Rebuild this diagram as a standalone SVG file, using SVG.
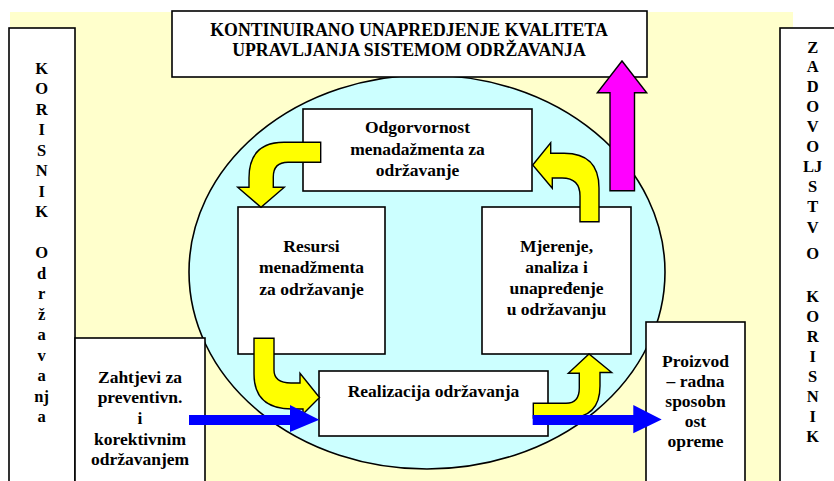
<svg xmlns="http://www.w3.org/2000/svg" width="834" height="481" viewBox="0 0 834 481">
<style>
.box{fill:#FFFFFF;stroke:#000000;stroke-width:1.6}
text{font-family:'Liberation Serif','DejaVu Serif',serif;font-weight:bold;fill:#000000;text-anchor:middle}
.t{font-size:17.5px}
.v{font-size:16.5px}
.ya{fill:#FFFF00;stroke:#000000;stroke-width:1.4;stroke-linejoin:miter}
.ma{fill:#FF00FF;stroke:#000000;stroke-width:1.4}
.ba{fill:#0000FF;stroke:none}
</style>
<rect x="0" y="0" width="834" height="481" fill="#FFFFFF"/>
<rect x="10" y="12" width="783" height="475" fill="#FFFFCC"/>

<g id="korisnik-odrzavanja" font-family="Liberation Serif, serif">
<rect class="box" x="9" y="28" width="66" height="470"/>
<text class="v"><tspan x="41.7" y="73.5">K</tspan><tspan x="41.7" y="94">O</tspan><tspan x="41.7" y="114.5">R</tspan><tspan x="41.7" y="135">I</tspan><tspan x="41.7" y="155.5">S</tspan><tspan x="41.7" y="176">N</tspan><tspan x="41.7" y="196.5">I</tspan><tspan x="41.7" y="217">K</tspan><tspan x="41.7" y="258">O</tspan><tspan x="41.7" y="278.5">d</tspan><tspan x="41.7" y="299">r</tspan><tspan x="41.7" y="319.5">ž</tspan><tspan x="41.7" y="340">a</tspan><tspan x="41.7" y="360.5">v</tspan><tspan x="41.7" y="381">a</tspan><tspan x="41.7" y="401.5">nj</tspan><tspan x="41.7" y="422">a</tspan></text>
</g>

<g id="zadovoljstvo-korisnika">
<rect class="box" x="780" y="28" width="70" height="470"/>
<text class="v"><tspan x="812.7" y="52.5">Z</tspan><tspan x="812.7" y="72">A</tspan><tspan x="812.7" y="91.5">D</tspan><tspan x="812.7" y="111.5">O</tspan><tspan x="812.7" y="131.5">V</tspan><tspan x="812.7" y="151.5">O</tspan><tspan x="812.7" y="171.5">LJ</tspan><tspan x="812.7" y="191.5">S</tspan><tspan x="812.7" y="211.5">T</tspan><tspan x="812.7" y="233">V</tspan><tspan x="812.7" y="259">O</tspan><tspan x="812.7" y="301.5">K</tspan><tspan x="812.7" y="321.5">O</tspan><tspan x="812.7" y="341.5">R</tspan><tspan x="812.7" y="361.5">I</tspan><tspan x="812.7" y="381.5">S</tspan><tspan x="812.7" y="401.5">N</tspan><tspan x="812.7" y="421.5">I</tspan><tspan x="812.7" y="441.5">K</tspan></text>
</g>

<g id="sistem-odrzavanja">
<ellipse cx="427" cy="272" rx="238" ry="197" fill="#CCFFFF" stroke="#000000" stroke-width="1.6"/>
</g>

<g id="kontinuirano-unapredjenje">
<rect class="box" x="172" y="11" width="475" height="66"/>
<text class="t" style="font-size:17.8px" x="409" y="36">KONTINUIRANO UNAPREDJENJE KVALITETA</text>
<text class="t" style="font-size:17.8px" x="409" y="56">UPRAVLJANJA SISTEMOM ODRŽAVANJA</text>
</g>

<g id="odgovornost">
<rect class="box" x="303" y="109" width="229" height="82"/>
<text class="t" x="417.5" y="133">Odgorvornost</text>
<text class="t" x="417.5" y="154.5">menadažmenta za</text>
<text class="t" x="417.5" y="176">održavanje</text>
</g>

<g id="resursi">
<rect class="box" x="238" y="207" width="147" height="147"/>
<text class="t" x="311.5" y="251.5">Resursi</text>
<text class="t" x="311.5" y="273">menadžmenta</text>
<text class="t" x="311.5" y="294.5">za održavanje</text>
</g>

<g id="mjerenje">
<rect class="box" x="482" y="207" width="149" height="147"/>
<text class="t" x="556.5" y="251.5">Mjerenje,</text>
<text class="t" x="556.5" y="272.5">analiza i</text>
<text class="t" x="556.5" y="293.5">unapređenje</text>
<text class="t" x="556.5" y="314.5">u održavanju</text>
</g>

<g id="realizacija">
<rect class="box" x="319" y="371" width="229" height="65"/>
<text class="t" x="433.5" y="396.5">Realizacija održavanja</text>
</g>

<g id="zahtjevi">
<rect class="box" x="75" y="338" width="130" height="160"/>
<text class="t" x="140" y="382.5">Zahtjevi za</text>
<text class="t" x="140" y="403.3">preventivn.</text>
<text class="t" x="140" y="424">i</text>
<text class="t" x="140" y="444.5">korektivnim</text>
<text class="t" x="140" y="465.3">održavanjem</text>
</g>

<g id="proizvod">
<rect class="box" x="646" y="322" width="99" height="176"/>
<text class="t" x="695.5" y="366.7">Proizvod</text>
<text class="t" x="695.5" y="386.7">– radna</text>
<text class="t" x="695.5" y="406.7">sposobn</text>
<text class="t" x="695.5" y="426.7">ost</text>
<text class="t" x="695.5" y="446.7">opreme</text>
</g>

<g id="connectors">
<path class="ya" d="M320.7,142.3 L284,142.3 Q249,142.3 249,178 L249,187.3 L237.7,187.3 L261,207.3 L284.3,187.3 L273.3,187.3 L273.3,177 Q273.3,162.3 288,162.3 L320.7,162.3 Z"/>
<path class="ya" d="M580,221.7 L580,196 Q580,178 562,178 L552.3,178 L552.3,188.3 L532.7,165 L550.7,142.7 L550.7,153.3 L564,153.3 Q599,153.3 599,188 L599,221.7 Z"/>
<path class="ma" d="M610,190.7 L610,92.7 L597.3,92.7 L622,61 L646.7,92.7 L634.5,92.7 L634.5,190.7 Z"/>
<path class="ya" d="M254,338.3 L274,338.3 L274,370 Q274,383 291,383 L300,383 L300,373.3 L319.5,397.5 L303,414 L303,409 L292,409 Q254,409 254,374 Z"/>
<path class="ya" d="M533.3,403.3 L566,403.3 Q579.3,403.3 579.3,388 L579.3,373.3 L568.3,373.3 L589,354 L611.7,372.5 L600,372.5 L600,386 Q600,418 568,418 L533.3,418 Z"/>
<path class="ba" d="M189,415 L290,415 L290,405 L319.3,419.8 L290,432 L290,425 L189,425 Z"/>
<path class="ba" d="M532.7,415 L633.3,415 L633.3,405 L661.7,419.5 L633.3,433.3 L633.3,425 L532.7,425 Z"/>
</g>
</svg>
